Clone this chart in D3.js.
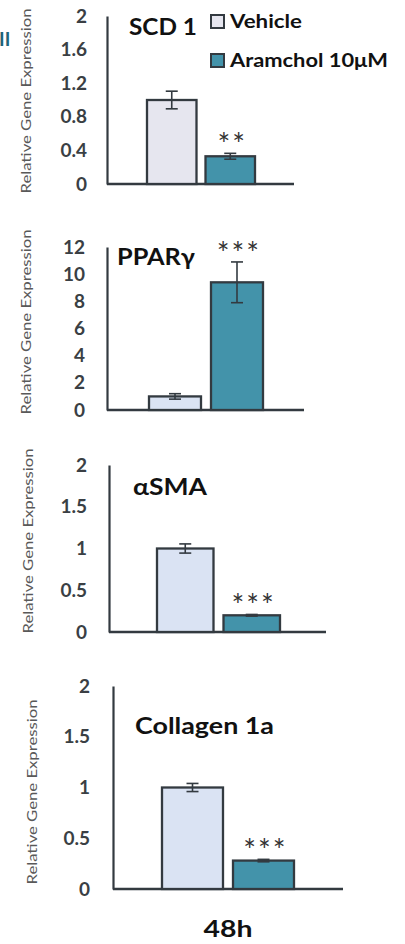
<!DOCTYPE html>
<html>
<head>
<meta charset="utf-8">
<script src="https://cdn.jsdelivr.net/npm/d3@7/dist/d3.min.js"></script>
<style>
  html, body { margin: 0; padding: 0; background: #fff; }
  svg { display: block; }
  text { font-family: Lato, "Open Sans", sans-serif; }
</style>
</head>
<body>
<svg id="chart" width="405" height="944"></svg>
<script>
// Gene expression data (relative to vehicle), 48h treatment
const genes = ["SCD 1", "PPARγ", "αSMA", "Collagen 1a"];
const groups = ["Vehicle", "Aramchol 10μM"];
const vehicleMean = [1.0, 1.0, 1.0, 1.0];
const vehicleErr = [0.105, 0.2, 0.055, 0.04];
const aramcholMean = [0.33, 9.4, 0.2, 0.28];
const aramcholErr = [0.035, 1.5, 0.01, 0.012];
const significance = ["**", "***", "***", "***"];
const yMax = [2, 12, 2, 2];
const tickValues = [
  [0, 0.4, 0.8, 1.2, 1.6, 2],
  [0, 2, 4, 6, 8, 10, 12],
  [0, 0.5, 1, 1.5, 2],
  [0, 0.5, 1, 1.5, 2]
];
const timeLabel = "48h";
const yAxisTitle = "Relative Gene Expression";

// Panel layout (pixels)
const layout = [
  { axisX: 107, top: 16, base: 184, bar0: 147, bar1: 255, end: 294, pad: 20, labelY: 101, title: [129, 35, 68], vfill: "#e6e6ef" },
  { axisX: 107, top: 247, base: 410, bar0: 149, bar1: 263, end: 304, pad: 22, labelY: 322, title: [117, 265, 78], vfill: "#dae3f3" },
  { axisX: 109, top: 465, base: 632, bar0: 157, bar1: 280, end: 326, pad: 22, labelY: 541, title: [133, 495, 74], vfill: "#dae3f3" },
  { axisX: 113, top: 686, base: 889, bar0: 162, bar1: 294, end: 343, pad: 23, labelY: 792, title: [135, 734, 139], vfill: "#dae3f3" }
];
const teal = "#4393aa";
const stroke = "#333a40";
const tickColor = "#3a3f44";

const svg = d3.select("#chart");

// Cropped panel label at the left edge
svg.append("text")
  .attr("x", -1).attr("y", 46)
  .attr("font-size", 19).attr("font-weight", 700)
  .attr("fill", "#1f6478")
  .text("II");

genes.forEach((gene, i) => {
  const L = layout[i];
  const g = svg.append("g");
  const y = d3.scaleLinear().domain([0, yMax[i]]).range([L.base, L.top]);
  const gap = i === 0 ? 9 : 10;
  const W = L.bar1 - L.bar0;
  const bw = (W - gap) / 2;
  const x = d3.scaleBand().domain(groups).range([L.bar0, L.bar1])
    .paddingInner(gap / (bw + gap)).paddingOuter(0);

  // Y axis: line plus bold numeric tick labels, no tick marks
  const axis = d3.axisLeft(y).tickValues(tickValues[i]).tickSize(0).tickPadding(L.pad)
    .tickFormat(d3.format("~g"));
  const ax = g.append("g").attr("transform", `translate(${L.axisX},0)`).call(axis);
  ax.select(".domain").attr("stroke", stroke).attr("stroke-width", 2.2);
  ax.selectAll(".tick text")
    .attr("font-family", "Lato, sans-serif")
    .attr("font-size", 19).attr("font-weight", 700)
    .attr("fill", tickColor);

  // Baseline
  g.append("line")
    .attr("x1", L.axisX).attr("x2", L.end)
    .attr("y1", L.base).attr("y2", L.base)
    .attr("stroke", stroke).attr("stroke-width", 2.4);

  // Y axis title
  g.append("text")
    .attr("transform", `translate(${L.axisX - 76},${L.labelY}) rotate(-90)`)
    .attr("text-anchor", "middle")
    .attr("font-family", "'Open Sans', sans-serif")
    .attr("font-size", 14).attr("fill", "#595959")
    .attr("textLength", 185).attr("lengthAdjust", "spacingAndGlyphs")
    .text(yAxisTitle);

  const rows = [
    { key: groups[0], mean: vehicleMean[i], err: vehicleErr[i], fill: L.vfill },
    { key: groups[1], mean: aramcholMean[i], err: aramcholErr[i], fill: teal }
  ];

  g.selectAll("rect.bar").data(rows).enter().append("rect")
    .attr("class", "bar")
    .attr("x", d => x(d.key))
    .attr("width", x.bandwidth())
    .attr("y", d => y(d.mean))
    .attr("height", d => L.base - y(d.mean))
    .attr("fill", d => d.fill)
    .attr("stroke", stroke).attr("stroke-width", 2.3);

  // Error bars
  const eb = g.selectAll("g.err").data(rows).enter().append("g").attr("class", "err");
  const cx = d => x(d.key) + x.bandwidth() / 2;
  const capW = 6;
  eb.append("line")
    .attr("x1", cx).attr("x2", cx)
    .attr("y1", d => y(d.mean + d.err)).attr("y2", d => y(d.mean - d.err))
    .attr("stroke", stroke).attr("stroke-width", 1.6);
  [1, -1].forEach(s => {
    eb.append("line")
      .attr("x1", d => cx(d) - capW).attr("x2", d => cx(d) + capW)
      .attr("y1", d => y(d.mean + s * d.err)).attr("y2", d => y(d.mean + s * d.err))
      .attr("stroke", stroke).attr("stroke-width", 1.6);
  });

  // Significance marker above the treated bar
  const t = rows[1];
  g.append("text")
    .attr("x", cx(t) + 2)
    .attr("y", y(t.mean + t.err) + 2)
    .attr("text-anchor", "middle")
    .attr("font-family", "'Liberation Sans', Arial, sans-serif")
    .attr("font-size", 30).attr("fill", "#333")
    .attr("letter-spacing", 2)
    .text(significance[i]);

  // Gene title
  g.append("text")
    .attr("x", L.title[0]).attr("y", L.title[1])
    .attr("font-family", "Lato, sans-serif")
    .attr("font-size", 22).attr("font-weight", 700).attr("fill", "#111")
    .attr("textLength", L.title[2]).attr("lengthAdjust", "spacingAndGlyphs")
    .text(gene);
});

// Legend
const legend = svg.append("g");
const legendRows = [
  { label: groups[0], fill: layout[0].vfill, y: 15, w: 72 },
  { label: groups[1], fill: teal, y: 54, w: 158 }
];
legendRows.forEach(r => {
  legend.append("rect")
    .attr("x", 211).attr("y", r.y).attr("width", 13).attr("height", 13)
    .attr("fill", r.fill).attr("stroke", stroke).attr("stroke-width", 2);
  legend.append("text")
    .attr("x", 230).attr("y", r.y + 13)
    .attr("font-family", "Lato, sans-serif")
    .attr("font-size", 18).attr("font-weight", 700).attr("fill", "#111")
    .attr("textLength", r.w).attr("lengthAdjust", "spacingAndGlyphs")
    .text(r.label);
});

// Time point label
svg.append("text")
  .attr("x", 228).attr("y", 937)
  .attr("text-anchor", "middle")
  .attr("font-family", "Lato, sans-serif")
  .attr("font-size", 23).attr("font-weight", 700).attr("fill", "#111")
  .attr("textLength", 49).attr("lengthAdjust", "spacingAndGlyphs")
  .text(timeLabel);
</script>
</body>
</html>
